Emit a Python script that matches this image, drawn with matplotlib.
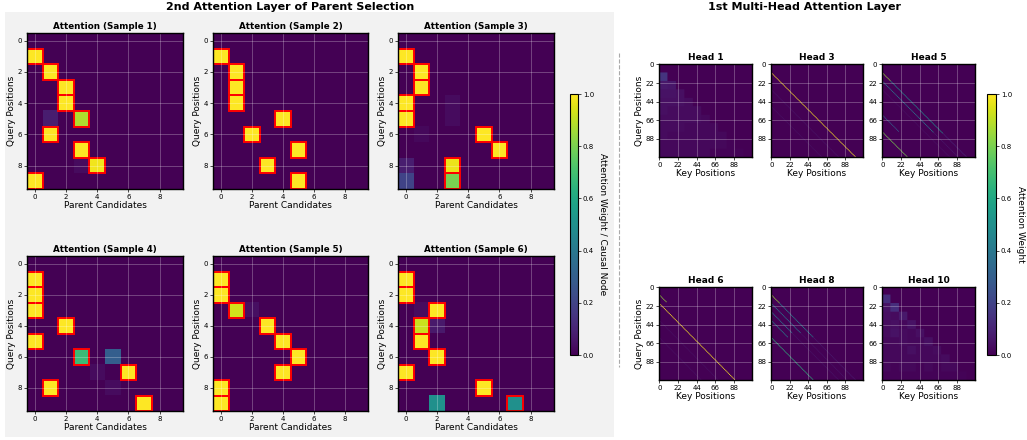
import numpy as np
import matplotlib
matplotlib.use("Agg")
import matplotlib.pyplot as plt
from matplotlib.patches import Rectangle
from matplotlib.lines import Line2D

# ---------------- data ----------------
SAMPLE_TITLES = ["Attention (Sample 1)", "Attention (Sample 2)", "Attention (Sample 3)",
                 "Attention (Sample 4)", "Attention (Sample 5)", "Attention (Sample 6)"]

# non-zero cells per sample: (query row, parent column, weight)
SAMPLE1_CELLS = [(1, 0, 1.0), (2, 1, 1.0), (3, 2, 1.0), (4, 2, 1.0), (5, 3, 0.88), (5, 1, 0.08),
                 (6, 1, 1.0), (7, 3, 1.0), (8, 4, 0.98), (8, 3, 0.03), (9, 0, 1.0)]
SAMPLE2_CELLS = [(1, 0, 1.0), (2, 1, 1.0), (3, 1, 1.0), (4, 1, 1.0), (5, 4, 1.0), (6, 2, 1.0),
                 (7, 5, 1.0), (8, 3, 1.0), (9, 5, 1.0)]
SAMPLE3_CELLS = [(1, 0, 1.0), (2, 1, 1.0), (3, 1, 1.0), (4, 0, 1.0), (5, 0, 1.0), (4, 3, 0.03),
                 (5, 3, 0.03), (6, 5, 1.0), (6, 1, 0.02), (7, 6, 1.0), (8, 3, 0.97), (8, 0, 0.08),
                 (9, 3, 0.8), (9, 0, 0.2)]
SAMPLE4_CELLS = [(1, 0, 1.0), (2, 0, 1.0), (3, 0, 1.0), (4, 2, 1.0), (5, 0, 1.0), (6, 3, 0.68),
                 (6, 5, 0.3), (7, 6, 1.0), (7, 4, 0.03), (8, 1, 1.0), (8, 5, 0.03), (9, 7, 1.0)]
SAMPLE5_CELLS = [(1, 0, 1.0), (2, 0, 1.0), (3, 1, 0.93), (3, 2, 0.04), (4, 3, 1.0), (5, 4, 1.0),
                 (6, 5, 1.0), (7, 4, 1.0), (8, 0, 1.0), (9, 0, 1.0)]
SAMPLE6_CELLS = [(1, 0, 1.0), (2, 0, 1.0), (3, 2, 1.0), (3, 1, 0.03), (4, 1, 0.92), (4, 2, 0.07),
                 (5, 1, 1.0), (6, 2, 1.0), (7, 0, 1.0), (8, 5, 1.0), (9, 2, 0.5), (9, 7, 0.5)]

# highlighted (causal parent) cells per sample: (row, col)
SAMPLE1_BOXES = [(1, 0), (2, 1), (3, 2), (4, 2), (5, 3), (6, 1), (7, 3), (8, 4), (9, 0)]
SAMPLE2_BOXES = [(1, 0), (2, 1), (3, 1), (4, 1), (5, 4), (6, 2), (7, 5), (8, 3), (9, 5)]
SAMPLE3_BOXES = [(1, 0), (2, 1), (3, 1), (4, 0), (5, 0), (6, 5), (7, 6), (8, 3), (9, 3)]
SAMPLE4_BOXES = [(1, 0), (2, 0), (3, 0), (4, 2), (5, 0), (6, 3), (7, 6), (8, 1), (9, 7)]
SAMPLE5_BOXES = [(1, 0), (2, 0), (3, 1), (4, 3), (5, 4), (6, 5), (7, 4), (8, 0), (9, 0)]
SAMPLE6_BOXES = [(1, 0), (2, 0), (3, 2), (4, 1), (5, 1), (6, 2), (7, 0), (8, 5), (9, 7)]

SAMPLE_SIZE = 10
SAMPLE_TICKS = [0, 2, 4, 6, 8]

HEAD_TITLES = ["Head 1", "Head 3", "Head 5", "Head 6", "Head 8", "Head 10"]
HEAD_SIZE = 110
HEAD_TICKS = [0, 22, 44, 66, 88]

# block-averaged heads: 11x11 blocks of 10x10 positions (query block, key block)
HEAD1_BLOCKS = [
    [0, 0, 0, 0, 0, 0, 0, 0, 0, 0, 0],
    [0.15, 0, 0, 0, 0, 0, 0, 0, 0, 0, 0],
    [0.07, 0.06, 0, 0, 0, 0, 0, 0, 0, 0, 0],
    [0.05, 0.05, 0.04, 0, 0, 0, 0, 0, 0, 0, 0],
    [0.04, 0.04, 0.04, 0.03, 0, 0, 0, 0, 0, 0, 0],
    [0.04, 0.03, 0.03, 0.03, 0.03, 0, 0, 0, 0, 0, 0],
    [0.03, 0.03, 0.03, 0.03, 0.03, 0.02, 0, 0, 0, 0, 0],
    [0.03, 0.03, 0.03, 0.02, 0.02, 0.02, 0.02, 0, 0, 0, 0],
    [0.03, 0.02, 0.02, 0.02, 0.02, 0.02, 0.02, 0.02, 0, 0, 0],
    [0.02, 0.02, 0.02, 0.02, 0.02, 0.02, 0.02, 0.02, 0.01, 0, 0],
    [0.02, 0.02, 0.02, 0.02, 0.02, 0.02, 0.01, 0.01, 0.01, 0.01, 0],
]
HEAD10_BLOCKS = [
    [0, 0, 0, 0, 0, 0, 0, 0, 0, 0, 0],
    [0.13, 0, 0, 0, 0, 0, 0, 0, 0, 0, 0],
    [0.05, 0.13, 0, 0, 0, 0, 0, 0, 0, 0, 0],
    [0.04, 0.03, 0.07, 0, 0, 0, 0, 0, 0, 0, 0],
    [0.03, 0.04, 0.02, 0.05, 0, 0, 0, 0, 0, 0, 0],
    [0.03, 0.05, 0.03, 0.02, 0.04, 0, 0, 0, 0, 0, 0],
    [0.02, 0.02, 0.03, 0.02, 0.02, 0.04, 0, 0, 0, 0, 0],
    [0.02, 0.02, 0.02, 0.04, 0.02, 0.02, 0.03, 0, 0, 0, 0],
    [0.02, 0.02, 0.02, 0.02, 0.02, 0.02, 0.02, 0.03, 0, 0, 0],
    [0.02, 0.01, 0.02, 0.02, 0.01, 0.02, 0.01, 0.02, 0.02, 0, 0],
    [0.01, 0.01, 0.01, 0.01, 0.01, 0.01, 0.01, 0.01, 0.01, 0.01, 0],
]

# diagonal heads: (query - key offset, first key, last key, weight)
HEAD3_DIAGONALS = [(10, 0, 100, 1.0), (30, 0, 80, 0.05), (50, 0, 60, 0.04)]
HEAD5_DIAGONALS = [(10, 0, 10, 0.85), (10, 10, 72, 0.5), (20, 0, 61, 0.4), (60, 0, 20, 0.3),
                   (80, 0, 30, 0.8), (10, 72, 100, 0.1), (20, 61, 90, 0.06), (30, 0, 80, 0.04)]
HEAD6_DIAGONALS = [(10, 0, 9, 0.85), (20, 0, 90, 1.0), (40, 0, 70, 0.04), (60, 0, 50, 0.04)]
HEAD8_DIAGONALS = [(10, 0, 10, 0.85), (10, 10, 50, 0.45), (20, 0, 35, 0.4), (30, 0, 25, 0.4),
                   (40, 0, 20, 0.45), (60, 0, 50, 0.65), (10, 50, 100, 0.07), (20, 35, 90, 0.05),
                   (30, 25, 80, 0.05)]

# ---------------- helpers ----------------
W, H = 1027, 440
fig = plt.figure(figsize=(W / 100, H / 100), dpi=100)
fig.patch.set_facecolor("white")


def ax_px(x0, y0, x1, y1):
    return fig.add_axes([x0 / W, 1 - y1 / H, (x1 - x0) / W, (y1 - y0) / H])


def cells_to_matrix(cells, n):
    m = np.zeros((n, n))
    for r, c, v in cells:
        m[r, c] = v
    return m


def blocks_to_matrix(blocks, n):
    b = np.array(blocks, dtype=float)
    return np.kron(b, np.ones((10, 10)))[:n, :n]


def diagonals_to_matrix(diags, n):
    m = np.zeros((n, n))
    for off, k0, k1, v in diags:
        for k in range(k0, k1):
            q = k + off
            if 0 <= q < n:
                m[q, k] = v
    return m


# gray background for the left group
fig.patches.append(Rectangle((5 / W, 1 - 437 / H), (614 - 5) / W, (437 - 12) / H,
                             transform=fig.transFigure, facecolor="#f2f2f2",
                             edgecolor="none", zorder=-10))
# dashed separator
fig.lines.append(Line2D([619 / W, 619 / W], [1 - 53 / H, 1 - 367 / H], transform=fig.transFigure,
                        color="#aaaaaa", linestyle="--", linewidth=0.8, zorder=-5))

fig.text(290 / W, 1 - 7 / H, "2nd Attention Layer of Parent Selection", ha="center", va="center",
         fontsize=8, fontweight="bold")
fig.text(805 / W, 1 - 7 / H, "1st Multi-Head Attention Layer", ha="center", va="center",
         fontsize=8, fontweight="bold")

sample_cells = [SAMPLE1_CELLS, SAMPLE2_CELLS, SAMPLE3_CELLS, SAMPLE4_CELLS, SAMPLE5_CELLS, SAMPLE6_CELLS]
sample_boxes = [SAMPLE1_BOXES, SAMPLE2_BOXES, SAMPLE3_BOXES, SAMPLE4_BOXES, SAMPLE5_BOXES, SAMPLE6_BOXES]

left_cols = [(27, 183), (213, 368), (398, 554)]
left_rows = [(33, 189), (256, 411)]

im_left = None
for i in range(6):
    r, c = divmod(i, 3)
    x0, x1 = left_cols[c]
    y0, y1 = left_rows[r]
    ax = ax_px(x0, y0, x1, y1)
    m = cells_to_matrix(sample_cells[i], SAMPLE_SIZE)
    im_left = ax.imshow(m, cmap="viridis", vmin=0, vmax=1, aspect="auto", interpolation="nearest")
    for (rr, cc) in sample_boxes[i]:
        ax.add_patch(Rectangle((cc - 0.5, rr - 0.5), 1, 1, fill=False, edgecolor="red", linewidth=1.4))
    ax.set_xticks(SAMPLE_TICKS)
    ax.set_yticks(SAMPLE_TICKS)
    ax.tick_params(labelsize=5, length=2, width=0.5, pad=1.5)
    ax.grid(True, color="white", alpha=0.3, linewidth=0.6)
    ax.set_title(SAMPLE_TITLES[i], fontsize=6.3, fontweight="bold", pad=3)
    ax.set_xlabel("Parent Candidates", fontsize=6.5, labelpad=1)
    ax.set_ylabel("Query Positions", fontsize=6.5, labelpad=1)
    for s in ax.spines.values():
        s.set_linewidth(1.0)

cax1 = ax_px(570, 94, 578, 355)
cb1 = fig.colorbar(im_left, cax=cax1)
cb1.ax.tick_params(labelsize=5, length=2, width=0.5, pad=1.5)
cb1.set_ticks([0, 0.2, 0.4, 0.6, 0.8, 1.0])
cb1.set_label("Attention Weight / Causal Node", fontsize=6.5, rotation=270, labelpad=9)
cb1.outline.set_linewidth(0.8)

head_mats = [blocks_to_matrix(HEAD1_BLOCKS, HEAD_SIZE),
             diagonals_to_matrix(HEAD3_DIAGONALS, HEAD_SIZE),
             diagonals_to_matrix(HEAD5_DIAGONALS, HEAD_SIZE),
             diagonals_to_matrix(HEAD6_DIAGONALS, HEAD_SIZE),
             diagonals_to_matrix(HEAD8_DIAGONALS, HEAD_SIZE),
             blocks_to_matrix(HEAD10_BLOCKS, HEAD_SIZE)]

right_cols = [(659, 752), (771, 863), (882, 975)]
right_rows = [(64, 157), (287, 380)]
im_right = None
for i in range(6):
    r, c = divmod(i, 3)
    x0, x1 = right_cols[c]
    y0, y1 = right_rows[r]
    ax = ax_px(x0, y0, x1, y1)
    im_right = ax.imshow(head_mats[i], cmap="viridis", vmin=0, vmax=1, aspect="auto")
    ax.set_xticks(HEAD_TICKS)
    ax.set_yticks(HEAD_TICKS)
    ax.tick_params(labelsize=5, length=2, width=0.5, pad=1.5)
    ax.grid(True, color="white", alpha=0.3, linewidth=0.6)
    ax.set_title(HEAD_TITLES[i], fontsize=6.5, fontweight="bold", pad=3)
    ax.set_xlabel("Key Positions", fontsize=6.5, labelpad=1)
    if c == 0:
        ax.set_ylabel("Query Positions", fontsize=6.5, labelpad=1)
    for s in ax.spines.values():
        s.set_linewidth(1.0)

cax2 = ax_px(987, 94, 996, 355)
cb2 = fig.colorbar(im_right, cax=cax2)
cb2.ax.tick_params(labelsize=5, length=2, width=0.5, pad=1.5)
cb2.set_ticks([0, 0.2, 0.4, 0.6, 0.8, 1.0])
cb2.set_label("Attention Weight", fontsize=6.5, rotation=270, labelpad=9)
cb2.outline.set_linewidth(0.8)

fig.savefig("out.png", dpi=100)
